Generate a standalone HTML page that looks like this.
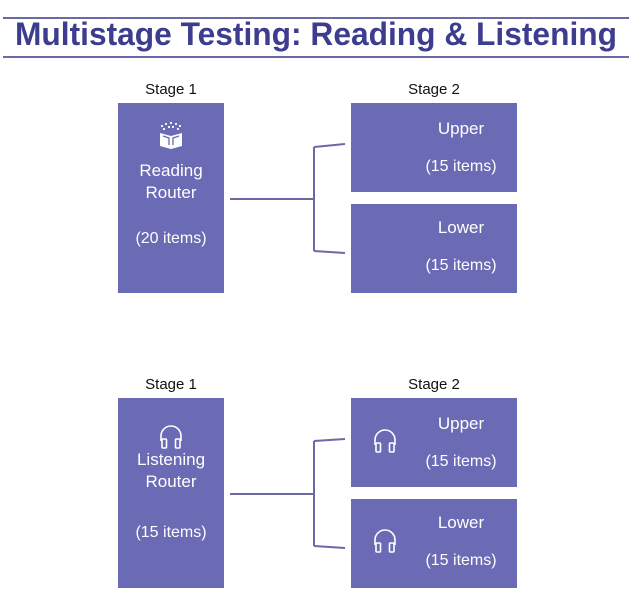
<!DOCTYPE html>
<html><head><meta charset="utf-8"><style>
html,body{margin:0;padding:0;background:#fff;}
svg{display:block}
text{font-family:"Liberation Sans",sans-serif;}
</style></head><body>
<svg width="629" height="595" viewBox="0 0 629 595" xmlns="http://www.w3.org/2000/svg">
<rect x="0" y="0" width="629" height="595" fill="#fff"/>
<line x1="3" y1="18" x2="629" y2="18" stroke="#6a6aa8" stroke-width="2"/>
<line x1="3" y1="57" x2="629" y2="57" stroke="#6a6aa8" stroke-width="2"/>
<text x="15" y="45" textLength="602" lengthAdjust="spacingAndGlyphs" font-size="32" font-weight="bold" fill="#3d3d8f">Multistage Testing: Reading &amp; Listening</text>

<g font-size="15" fill="#111" text-anchor="middle">
<text x="171" y="94">Stage 1</text><text x="434" y="94">Stage 2</text>
<text x="171" y="389">Stage 1</text><text x="434" y="389">Stage 2</text>
</g>

<g fill="#6a6ab5">
<rect x="118" y="103" width="106" height="190"/>
<rect x="351" y="103" width="166" height="89"/>
<rect x="351" y="204" width="166" height="89"/>
<rect x="118" y="398" width="106" height="190"/>
<rect x="351" y="398" width="166" height="89"/>
<rect x="351" y="499" width="166" height="89"/>
</g>

<g fill="none" stroke="#6a6aa8" stroke-width="2">
<path d="M230 199 H314 M314 147 V251 M314 147 L345 144 M314 251 L345 253"/>
<path d="M230 494 H314 M314 441 V546 M314 441 L345 439 M314 546 L345 548"/>
</g>

<!-- book icon -->
<g fill="#fff">
<circle cx="162" cy="126" r="1.1"/><circle cx="166" cy="124" r="1.1"/><circle cx="171" cy="123" r="1.1"/><circle cx="176" cy="124" r="1.1"/><circle cx="180" cy="126" r="1.1"/>
<circle cx="164" cy="129" r="1.1"/><circle cx="169" cy="127" r="1.1"/><circle cx="173" cy="127" r="1.1"/><circle cx="178" cy="129" r="1.1"/>
<path d="M160 133 L171 136 L182 133 V146 L171 149 L160 146 Z"/>
</g>
<path d="M163 136 L169 138 V145 M179 136 L173 138 V145" stroke="#6a6ab5" stroke-width="1.3" fill="none"/>

<g fill="#fff" text-anchor="middle" font-size="17">
<text x="171" y="176">Reading</text><text x="171" y="198">Router</text>
<text x="171" y="243" font-size="16">(20 items)</text>
<text x="461" y="134">Upper</text><text x="461" y="171" font-size="16">(15 items)</text>
<text x="461" y="233">Lower</text><text x="461" y="270" font-size="16">(15 items)</text>
<text x="171" y="465">Listening</text><text x="171" y="487">Router</text>
<text x="171" y="537" font-size="16">(15 items)</text>
<text x="461" y="429">Upper</text><text x="461" y="466" font-size="16">(15 items)</text>
<text x="461" y="528">Lower</text><text x="461" y="565" font-size="16">(15 items)</text>
</g>

<defs>
<g id="hp" fill="none" stroke="#fff" stroke-width="1.6">
<path d="M-10 5 V0 A10 10 0 0 1 10 0 V5"/>
<rect x="-9" y="3" width="4.5" height="9" rx="1"/>
<rect x="4.5" y="3" width="4.5" height="9" rx="1"/>
</g>
</defs>
<use href="#hp" x="171" y="436"/>
<use href="#hp" x="385" y="440"/>
<use href="#hp" x="385" y="540"/>
</svg>
</body></html>
